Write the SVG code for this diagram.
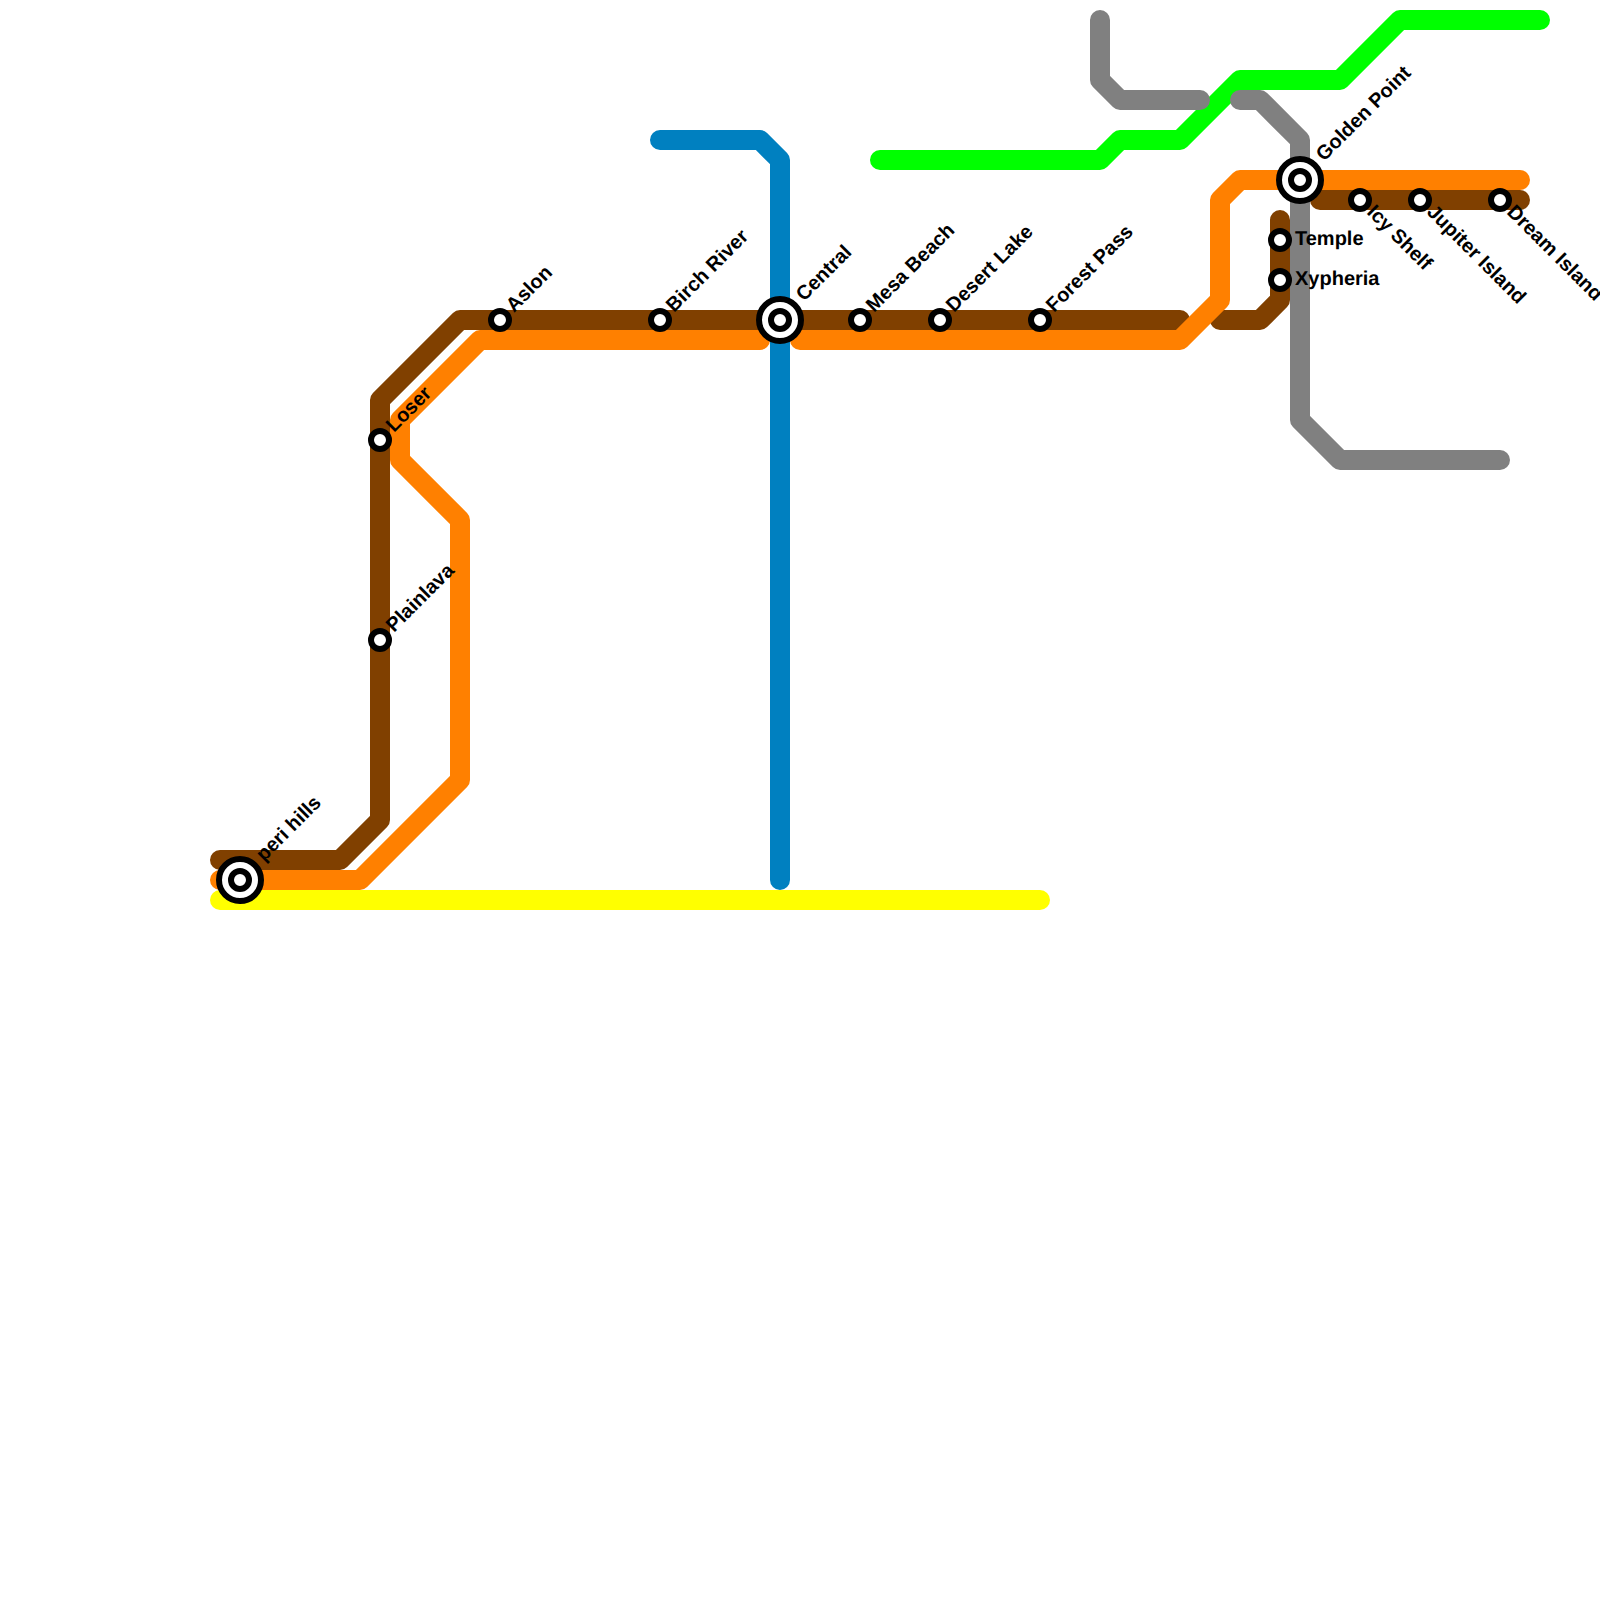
<svg xmlns="http://www.w3.org/2000/svg" width="1600" height="1600" viewBox="0 0 1600 1600">
<style>
.l{fill:none;stroke-width:20;stroke-linecap:round;stroke-linejoin:round}
.br{stroke:#804000}.or{stroke:#ff8000}.ye{stroke:#ffff00}.bl{stroke:#0080c0}.gn{stroke:#00ff00}.gy{stroke:#808080}
.s{fill:#fff;stroke:#000;stroke-width:6}
.c{fill:#fff;stroke:#000;stroke-width:6}
text{font-family:"Liberation Sans",Arial,sans-serif;font-weight:700;font-size:20px;fill:#000;text-rendering:geometricPrecision}
</style>
<rect width="1600" height="1600" fill="#fff"/>
<g id="connectors">
<path class="l gn" d="M880 160H1100L1120 140H1180L1240 80H1340L1400 20H1540"/>
<path class="l gy" d="M1100 20V80L1120 100H1200"/>
<path class="l gy" d="M1240 100H1260L1300 140V420L1340 460H1500"/>
<path class="l ye" d="M220 900H1040"/>
<path class="l br" d="M220 860H340L380 820V400L460 320H1180"/>
<path class="l br" d="M1220 320H1260L1280 300V220"/>
<path class="l br" d="M1320 200H1520"/>
<path class="l or" d="M220 880H360L460 780V520L400 460V420L480 340H760"/>
<path class="l or" d="M800 340H1180L1220 300V200L1240 180H1520"/>
<path class="l bl" d="M660 140H760L780 160V880"/>
</g>
<g id="peri-hills"><circle class="c" cx="240" cy="880" r="21"/><circle class="s" cx="240" cy="880" r="9"/><text transform="translate(264 862) rotate(-45)">peri hills</text></g>
<g id="loser"><circle class="s" cx="380" cy="440" r="9"/><text transform="translate(394 433) rotate(-45)">Loser</text></g>
<g id="plainlava"><circle class="s" cx="380" cy="640" r="9"/><text transform="translate(394 633) rotate(-45)">Plainlava</text></g>
<g id="aslon"><circle class="s" cx="500" cy="320" r="9"/><text transform="translate(514 313) rotate(-45)">Aslon</text></g>
<g id="birch-river"><circle class="s" cx="660" cy="320" r="9"/><text transform="translate(674 313) rotate(-45)">Birch River</text></g>
<g id="central"><circle class="c" cx="780" cy="320" r="21"/><circle class="s" cx="780" cy="320" r="9"/><text transform="translate(804 302) rotate(-45)">Central</text></g>
<g id="mesa-beach"><circle class="s" cx="860" cy="320" r="9"/><text transform="translate(874 313) rotate(-45)">Mesa Beach</text></g>
<g id="desert-lake"><circle class="s" cx="940" cy="320" r="9"/><text transform="translate(954 313) rotate(-45)">Desert Lake</text></g>
<g id="forest-pass"><circle class="s" cx="1040" cy="320" r="9"/><text transform="translate(1054 313) rotate(-45)">Forest Pass</text></g>
<g id="golden-point"><circle class="c" cx="1300" cy="180" r="21"/><circle class="s" cx="1300" cy="180" r="9"/><text transform="translate(1324 162) rotate(-45)">Golden Point</text></g>
<g id="temple"><circle class="s" cx="1280" cy="240" r="9"/><text x="1295" y="245">Temple</text></g>
<g id="xypheria"><circle class="s" cx="1280" cy="280" r="9"/><text x="1295" y="285">Xypheria</text></g>
<g id="icy-shelf"><circle class="s" cx="1360" cy="200" r="9"/><text transform="translate(1366 213) rotate(45)">Icy Shelf</text></g>
<g id="jupiter-island"><circle class="s" cx="1420" cy="200" r="9"/><text transform="translate(1426 213) rotate(45)">Jupiter Island</text></g>
<g id="dream-island"><circle class="s" cx="1500" cy="200" r="9"/><text transform="translate(1506 213) rotate(45)">Dream Island</text></g>
</svg>
